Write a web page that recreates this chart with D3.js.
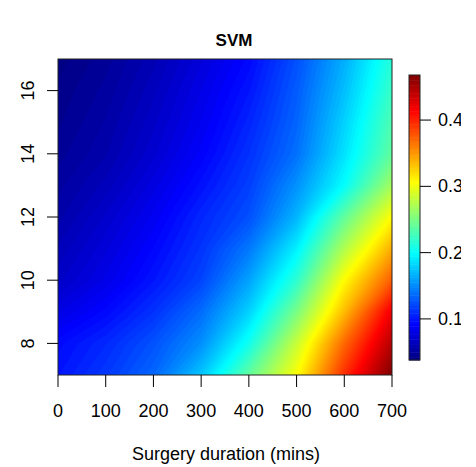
<!DOCTYPE html>
<html>
<head>
<meta charset="utf-8">
<script src="https://cdn.jsdelivr.net/npm/d3@7"></script>
<style>
  body { margin: 0; background: #fff; }
  text { font-family: "Liberation Sans", Arial, sans-serif; fill: #000; }
</style>
</head>
<body>
<div id="chart"></div>
<script>
// grid: surgery duration (cols) x second variable (rows)
const durations = [0, 100, 200, 300, 400, 500, 600, 700];
const yLevels = [7, 8, 9, 10, 11, 12, 13, 14, 15, 16, 17];
const probs = [
  [0.100, 0.115, 0.135, 0.175, 0.240, 0.305, 0.395, 0.468], // 7
  [0.095, 0.108, 0.126, 0.152, 0.206, 0.283, 0.370, 0.445], // 8
  [0.080, 0.094, 0.112, 0.137, 0.180, 0.250, 0.335, 0.420], // 9
  [0.068, 0.082, 0.100, 0.120, 0.160, 0.218, 0.307, 0.375], // 10
  [0.062, 0.076, 0.093, 0.113, 0.142, 0.193, 0.273, 0.341], // 11
  [0.056, 0.070, 0.086, 0.107, 0.125, 0.168, 0.240, 0.307], // 12
  [0.052, 0.063, 0.079, 0.098, 0.118, 0.153, 0.200, 0.268], // 13
  [0.048, 0.057, 0.072, 0.090, 0.112, 0.139, 0.187, 0.240], // 14
  [0.045, 0.054, 0.068, 0.085, 0.106, 0.134, 0.180, 0.232], // 15
  [0.043, 0.051, 0.064, 0.081, 0.100, 0.130, 0.172, 0.223], // 16
  [0.040, 0.048, 0.060, 0.076, 0.094, 0.125, 0.165, 0.215]  // 17
];
const xTicks = [0, 100, 200, 300, 400, 500, 600, 700];
const yTicks = [8, 10, 12, 14, 16];
const legendTicks = [0.1, 0.2, 0.3, 0.4];
const zRange = [0.038, 0.468];
const jet = ["#00007F", "#0000FF", "#007FFF", "#00FFFF", "#7FFF7F", "#FFFF00", "#FF7F00", "#FF0000", "#7F0000"];

const W = 476, H = 467;
const plot = { left: 58, right: 392, top: 59, bottom: 375 };
const bar = { left: 409, right: 420, top: 75, bottom: 360 };

const svg = d3.select("#chart").append("svg")
    .attr("width", W)
    .attr("height", H);

const x = d3.scaleLinear().domain([0, 700]).range([plot.left, plot.right]);
const y = d3.scaleLinear().domain([7, 17]).range([plot.bottom, plot.top]);

// jet palette spread over the z range
const color = d3.scaleLinear()
    .domain(d3.range(jet.length).map(i => zRange[0] + i * (zRange[1] - zRange[0]) / (jet.length - 1)))
    .range(jet)
    .clamp(true);

const nLevels = 110;
const step = (zRange[1] - zRange[0]) / nLevels;
const levels = d3.range(nLevels).map(i => zRange[0] + i * step);

// contours over the grid
const nx = durations.length, ny = yLevels.length;
const values = [];
probs.forEach(row => row.forEach(v => values.push(v)));
const gx = d3.scaleLinear().domain([0.5, nx - 0.5]).range([durations[0], durations[nx - 1]]);
const gy = d3.scaleLinear().domain([0.5, ny - 0.5]).range([yLevels[0], yLevels[ny - 1]]);
const proj = d3.geoTransform({
    point: function (px, py) { this.stream.point(x(gx(px)), y(gy(py))); }
});
const path = d3.geoPath(proj);

const contours = d3.contours()
    .size([nx, ny])
    .thresholds([-1].concat(levels.slice(1)))(values);

svg.append("clipPath").attr("id", "plotclip")
    .append("rect")
    .attr("x", plot.left).attr("y", plot.top)
    .attr("width", plot.right - plot.left).attr("height", plot.bottom - plot.top);

svg.append("g")
    .attr("clip-path", "url(#plotclip)")
    .selectAll("path")
    .data(contours)
    .enter()
    .append("path")
    .attr("d", path)
    .attr("fill", (d, i) => color(levels[i] + step / 2))
    .attr("stroke", (d, i) => color(levels[i] + step / 2))
    .attr("stroke-width", 0.6);

svg.append("rect")
    .attr("x", plot.left).attr("y", plot.top)
    .attr("width", plot.right - plot.left).attr("height", plot.bottom - plot.top)
    .attr("fill", "none")
    .attr("stroke", "#222");

// x axis
const gX = svg.append("g").attr("transform", "translate(0," + plot.bottom + ")");
gX.selectAll("line").data(xTicks).enter().append("line")
    .attr("x1", d => x(d)).attr("x2", d => x(d))
    .attr("y1", 0).attr("y2", 12)
    .attr("stroke", "#000");
gX.selectAll("text").data(xTicks).enter().append("text")
    .attr("x", d => x(d)).attr("y", 42)
    .attr("text-anchor", "middle")
    .style("font-size", "18px")
    .text(d => d);

// y axis
const gY = svg.append("g").attr("transform", "translate(" + plot.left + ",0)");
gY.selectAll("line").data(yTicks).enter().append("line")
    .attr("x1", 0).attr("x2", -11)
    .attr("y1", d => y(d)).attr("y2", d => y(d))
    .attr("stroke", "#000");
gY.selectAll("text").data(yTicks).enter().append("text")
    .attr("transform", d => "translate(-24," + y(d) + ") rotate(-90)")
    .attr("text-anchor", "middle")
    .style("font-size", "18px")
    .text(d => d);

// titles
svg.append("text")
    .attr("x", 234).attr("y", 46)
    .attr("text-anchor", "middle")
    .style("font-size", "17px")
    .style("font-weight", "bold")
    .text("SVM");
svg.append("text")
    .attr("x", 226).attr("y", 460)
    .attr("text-anchor", "middle")
    .style("font-size", "18px")
    .text("Surgery duration (mins)");

// colour key
const z = d3.scaleLinear().domain(zRange).range([bar.bottom, bar.top]);
svg.append("g").selectAll("rect")
    .data(levels)
    .enter()
    .append("rect")
    .attr("x", bar.left)
    .attr("width", bar.right - bar.left)
    .attr("y", d => z(d + step))
    .attr("height", d => z(d) - z(d + step) + 0.5)
    .attr("fill", d => color(d + step / 2));
svg.append("rect")
    .attr("x", bar.left).attr("y", bar.top)
    .attr("width", bar.right - bar.left).attr("height", bar.bottom - bar.top)
    .attr("fill", "none")
    .attr("stroke", "#222");

svg.append("clipPath").attr("id", "keyclip")
    .append("rect").attr("x", 0).attr("y", 0).attr("width", 461).attr("height", H);
const gK = svg.append("g").attr("clip-path", "url(#keyclip)");
gK.selectAll("line").data(legendTicks).enter().append("line")
    .attr("x1", bar.right).attr("x2", bar.right + 11)
    .attr("y1", d => z(d)).attr("y2", d => z(d))
    .attr("stroke", "#000");
gK.selectAll("text").data(legendTicks).enter().append("text")
    .attr("x", bar.right + 18).attr("y", d => z(d) + 6)
    .style("font-size", "18px")
    .text(d => d3.format(".1f")(d));
</script>
</body>
</html>
